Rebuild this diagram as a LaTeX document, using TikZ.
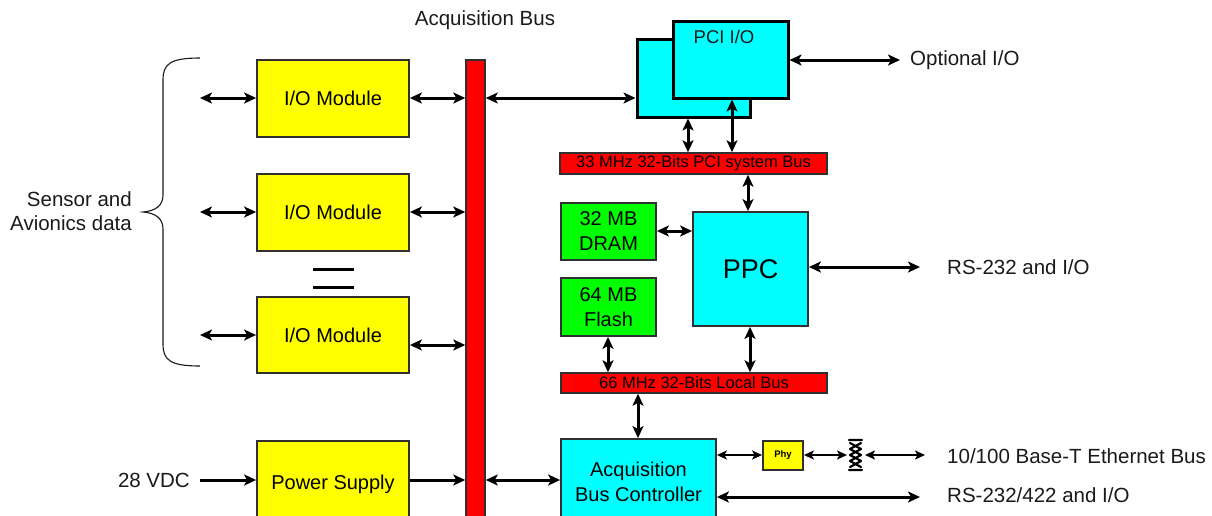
\documentclass[tikz,border=0pt]{standalone}
\usepackage{fontspec}
\setmainfont{Liberation Sans}
\usetikzlibrary{arrows.meta}
\definecolor{cyanbox}{HTML}{00FFFF}
\definecolor{yelbox}{HTML}{FFFF00}
\definecolor{grnbox}{HTML}{00FF00}
\definecolor{redbus}{HTML}{FF0000}
\definecolor{edge}{HTML}{303030}
\definecolor{txt}{HTML}{1A1A1A}
\tikzset{
  lbl/.style={font=\fontsize{20.5}{24}\selectfont, inner sep=0pt, text=txt},
  boxbase/.style={draw=edge, line width=1.8pt, inner sep=0pt, align=center, font=\fontsize{20}{25}\selectfont},
  yelbx/.style={boxbase, fill=yelbox, minimum width=152pt},
  cyanbx/.style={boxbase, fill=cyanbox},
  grnbx/.style={boxbase, fill=grnbox, minimum width=95pt},
  card/.style={draw=black, line width=3pt, fill=cyanbox, inner sep=0pt},
  busbar/.style={draw=edge, line width=1.5pt, fill=redbus, inner sep=0pt, font=\fontsize{16.5}{18}\selectfont},
  biarr/.style={line width=3pt, {Stealth[length=12pt,width=11pt,inset=3pt]}-{Stealth[length=12pt,width=11pt,inset=3pt]}},
  oneway/.style={line width=3pt, -{Stealth[length=12pt,width=11pt,inset=3pt]}},
  thinarr/.style={line width=2pt, {Stealth[length=10pt,width=9pt,inset=2.5pt]}-{Stealth[length=10pt,width=9pt,inset=2.5pt]}},
}
\begin{document}
\begin{tikzpicture}[x=1pt,y=-1pt]
\useasboundingbox (0,0) rectangle (1212,515);
\clip (0,0) rectangle (1212,515);
\fill[white] (0,0) rectangle (1212,515);

% bus
\node[busbar, minimum width=19pt, minimum height=470pt] (bus) at (475.5,295) {};
\node[lbl] (bustitle) at (485,20) {Acquisition Bus};

% I/O modules
\node[yelbx, minimum height=77pt] (io1) at (333,98.5) {I/O Module};
\node[yelbx, minimum height=77pt] (io2) at (333,212.5) {I/O Module};
\node[yelbx, minimum height=76pt] (io3) at (333,335) {I/O Module};
\node[yelbx, minimum height=86pt] (ps) at (333,484) {Power Supply};

% equal sign
\draw[line width=3pt] (313,269) -- (354,269);
\draw[line width=3pt] (313,287) -- (354,287);

% left side
\coordinate (in1) at (200,98);
\coordinate (in2) at (200,212);
\coordinate (in3) at (200,335);
\coordinate (inps) at (200,480);
\draw[biarr] (in1) -- (io1.west |- in1);
\draw[biarr] (in2) -- (io2.west |- in2);
\draw[biarr] (in3) -- (io3.west |- in3);
\draw[oneway] (inps) -- (ps.west |- inps);
\node[lbl, anchor=east] (vdc) at (190,480) {28 VDC};
\node[lbl, anchor=east, align=right] (sensor) at (132,211) {Sensor and\\Avionics data};
\draw[line width=1.1pt, draw=txt] (200,58) .. controls (170,58) and (163,64) .. (163,80)
  -- (163,195) .. controls (163,206) and (155,211) .. (143,212)
  .. controls (155,213) and (163,218) .. (163,229)
  -- (163,344) .. controls (163,360) and (170,366) .. (200,366);

% modules to bus
\coordinate (b1) at (466,98);
\coordinate (b2) at (466,212);
\coordinate (b3) at (466,345);
\coordinate (bps) at (466,480);
\draw[biarr] (io1.east |- b1) -- (bus.west |- b1);
\draw[biarr] (io2.east |- b2) -- (bus.west |- b2);
\draw[biarr] (io3.east |- b3) -- (bus.west |- b3);
\draw[oneway] (ps.east |- bps) -- (bus.west |- bps);

% PCI cards
\node[card, minimum width=113pt, minimum height=78pt] (pcib) at (693.5,78) {};
\node[card, minimum width=115pt, minimum height=77pt] (pcif) at (730.5,59.5) {};
\node[font=\fontsize{18.5}{20}\selectfont, inner sep=0pt, text=txt] (pcitext) at (724,37) {PCI I/O};
\coordinate (p1) at (487,98);
\draw[biarr] (bus.east |- p1) -- (pcib.west |- p1);
\coordinate (opt) at (900,60);
\draw[biarr] (pcif.east |- opt) -- (opt);
\node[lbl, anchor=west] (opttext) at (910,60) {Optional I/O};

% PCI bus
\node[busbar, minimum width=267pt, minimum height=21pt] (pcibus) at (693.5,163.5) {33 MHz 32-Bits PCI system Bus};
\coordinate (pa) at (688,130);
\coordinate (pb) at (732,130);
\draw[biarr] (pcib.south -| pa) -- (pcibus.north -| pa);
\draw[biarr] (pcif.south -| pb) -- (pcibus.north -| pb);

% PPC and memory
\node[cyanbx, minimum width=115pt, minimum height=114pt, font=\fontsize{27}{30}\selectfont] (ppc) at (750.5,269) {PPC};
\node[grnbx, minimum height=57pt] (dram) at (608.5,231.5) {32 MB\\DRAM};
\node[grnbx, minimum height=58pt] (flash) at (608.5,307) {64 MB\\Flash};
\coordinate (pc) at (748,190);
\draw[biarr] (pcibus.south -| pc) -- (ppc.north -| pc);
\coordinate (dr) at (660,231);
\draw[biarr] (dram.east |- dr) -- (ppc.west |- dr);
\coordinate (rs1) at (920,267);
\draw[biarr] (ppc.east |- rs1) -- (rs1);
\node[lbl, anchor=west] (rs1text) at (947,267) {RS-232 and I/O};

% local bus
\node[busbar, minimum width=266pt, minimum height=20pt] (lbus) at (694,383) {66 MHz 32-Bits Local Bus};
\coordinate (fl) at (608,350);
\coordinate (pl) at (750,350);
\draw[biarr] (flash.south -| fl) -- (lbus.north -| fl);
\draw[biarr] (ppc.south -| pl) -- (lbus.north -| pl);

% acquisition bus controller
\node[cyanbx, minimum width=155pt, minimum height=86pt] (abc) at (638.5,482) {Acquisition\\Bus Controller};
\coordinate (la) at (638,410);
\draw[biarr] (lbus.south -| la) -- (abc.north -| la);
\coordinate (ba) at (490,480);
\draw[biarr] (bus.east |- ba) -- (abc.west |- ba);

% phy and ethernet
\node[boxbase, fill=yelbox, minimum width=40pt, minimum height=29pt, font=\bfseries\fontsize{9.5}{10}\selectfont] (phy) at (783,455.5) {Phy};
\coordinate (e1) at (716,455);
\draw[thinarr] (abc.east |- e1) -- (phy.west |- e1);
\coordinate (xl) at (847,455);
\coordinate (xr) at (865,455);
\coordinate (eth) at (925,455);
\draw[thinarr] (phy.east |- xl) -- (xl);
\draw[thinarr] (xr) -- (eth);
\draw[line width=2.2pt, line join=round, line cap=round]
  (849,440) -- (862,440)
  (850,443) -- (861,449) -- (850,455) -- (861,461) -- (850,467)
  (861,443) -- (850,449) -- (861,455) -- (850,461) -- (861,467)
  (849,470) -- (862,470);
\node[lbl, anchor=west] (ethtext) at (947,456) {10/100 Base-T Ethernet Bus};
\coordinate (rs2) at (920,497);
\draw[biarr] (abc.east |- rs2) -- (rs2);
\node[lbl, anchor=west] (rs2text) at (947,495) {RS-232/422 and I/O};
\end{tikzpicture}
\end{document}
